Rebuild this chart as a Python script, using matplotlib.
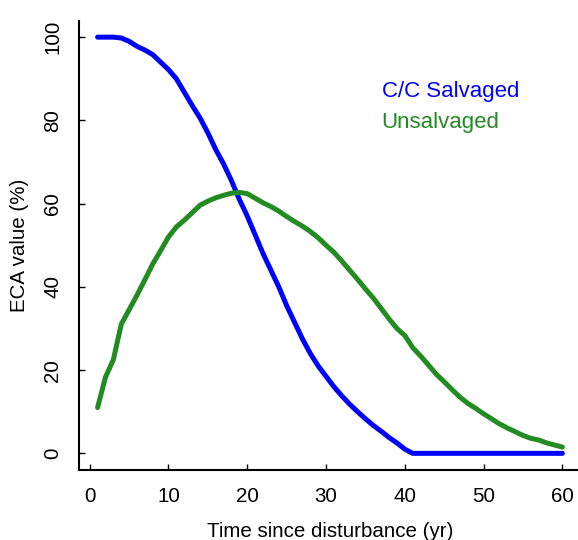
import numpy as np
import matplotlib
matplotlib.use("Agg")
import matplotlib.pyplot as plt

plt.rcParams["font.family"] = ["Liberation Sans", "DejaVu Sans"]

# ----------------------------
# Data
# ----------------------------
years = np.arange(1, 61)

salvaged = [100, 100, 100, 99.8, 99, 97.8, 96.9, 95.8, 94, 92.2,
            90, 86.8, 83.6, 80.6, 77, 73, 69.5, 65.5, 61, 57,
            52.5, 48, 44, 40, 35.5, 31.5, 27.5, 24, 21, 18.5,
            16, 13.8, 11.8, 10, 8.3, 6.7, 5.3, 3.8, 2.5, 1.0,
            0, 0, 0, 0, 0, 0, 0, 0, 0, 0,
            0, 0, 0, 0, 0, 0, 0, 0, 0, 0]

unsalvaged = [11, 18.3, 22.5, 31, 34.5, 38, 41.7, 45.5, 48.7, 52,
              54.4, 56, 57.8, 59.6, 60.6, 61.4, 62, 62.5, 62.7, 62.4,
              61.3, 60.2, 59.3, 58.2, 56.9, 55.7, 54.6, 53.3, 51.8, 50,
              48.3, 46.2, 44, 41.8, 39.5, 37.3, 34.8, 32.3, 30, 28.3,
              25.4, 23.4, 21.2, 19, 17.2, 15.3, 13.5, 12, 10.8, 9.5,
              8.3, 7.1, 6.1, 5.2, 4.3, 3.6, 3.2, 2.5, 2.0, 1.5]

series_names = ["C/C Salvaged", "Unsalvaged"]
series_colors = ["#0000FF", "#228B22"]

xticks = [0, 10, 20, 30, 40, 50, 60]
yticks = [0, 20, 40, 60, 80, 100]

# ----------------------------
# Plot
# ----------------------------
W, H = 578, 540
fig = plt.figure(figsize=(W / 100, H / 100), dpi=100)
ax = fig.add_axes([79 / W, 70 / H, (581 - 79) / W, (470 - 20.5) / H])

ax.plot(years, salvaged, color=series_colors[0], lw=3.6, solid_capstyle="round")
ax.plot(years, unsalvaged, color=series_colors[1], lw=3.6, solid_capstyle="round")

# R-style 4% axis extension
ax.set_xlim(1 - 0.04 * 59, 60 + 0.04 * 59)
ax.set_ylim(-4, 104)

ax.spines["top"].set_visible(False)
ax.spines["right"].set_visible(False)
for s in ("left", "bottom"):
    ax.spines[s].set_linewidth(1.5)

ax.set_xticks(xticks)
ax.set_yticks(yticks)
ax.tick_params(direction="in", length=4, width=1, labelsize=14.8)
ax.tick_params(axis="x", pad=12)
ax.tick_params(axis="y", pad=12)
for lab in ax.get_yticklabels():
    lab.set_rotation(90)
    lab.set_va("center")

ax.set_xlabel("Time since disturbance (yr)", fontsize=14.8, labelpad=12)
ax.set_ylabel("ECA value (%)", fontsize=14.8, labelpad=10)

ax.text(37.06, 85.7, series_names[0], color=series_colors[0], fontsize=16, va="baseline")
ax.text(37.06, 78.1, series_names[1], color=series_colors[1], fontsize=16, va="baseline")

fig.savefig("out.png", dpi=100)
